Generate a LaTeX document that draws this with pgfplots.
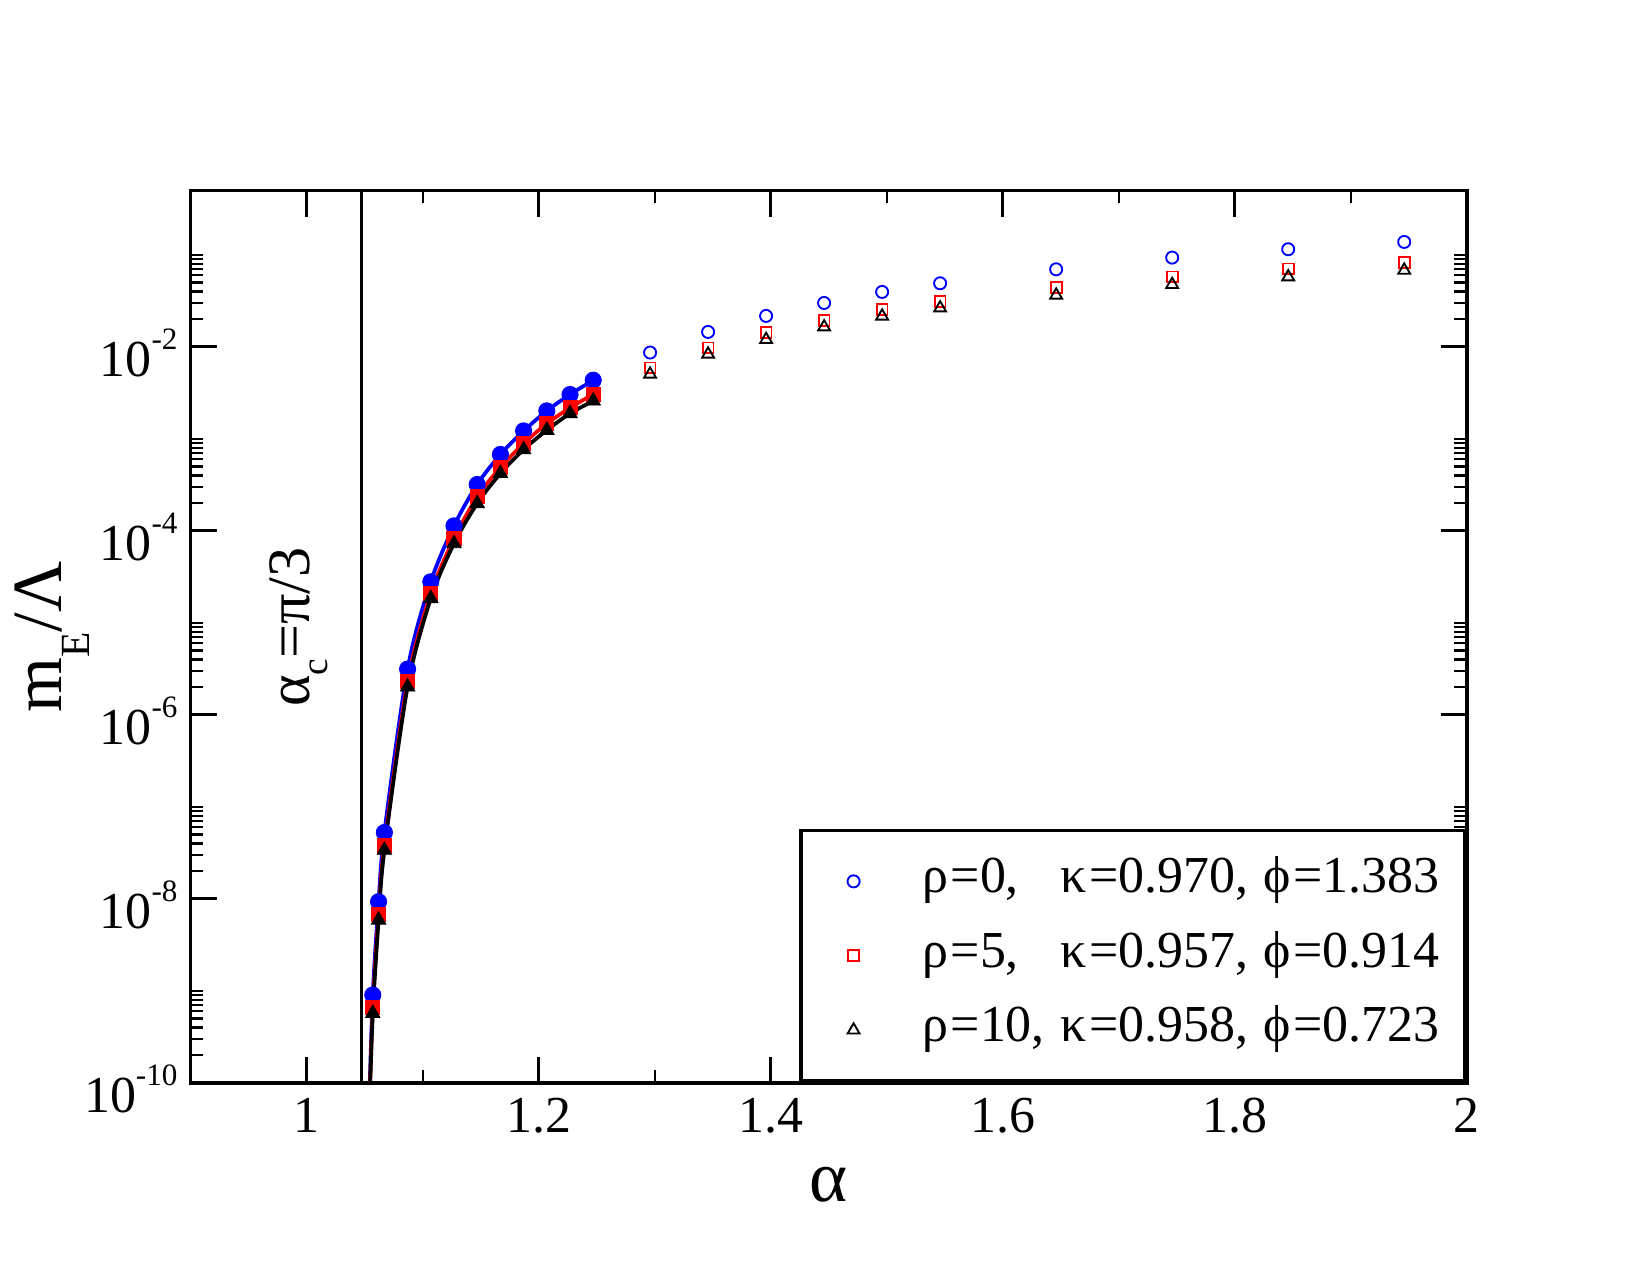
\documentclass[border=0pt]{standalone}
\usepackage{fontspec}
\setmainfont{Liberation Serif}
\usepackage{pgfplots}
\pgfplotsset{compat=1.18}
\definecolor{gblue}{RGB}{0,0,255}
\definecolor{gred}{RGB}{255,0,0}

% power-of-ten tick label with a raised exponent
\newcommand{\tenpow}[1]{10\raisebox{13.4bp}{\fontsize{15}{15}\selectfont #1}}
% Greek letters with a little extra advance
\newcommand{\grk}[1]{\kern1.2bp#1\kern1.3bp}

\begin{document}
\begin{tikzpicture}
\useasboundingbox (-91.5bp,-92.2bp) rectangle (700.5bp,519.8bp);
\begin{axis}[
  at={(0,0)}, anchor=south west,
  scale only axis, width=612.6bp, height=428.3bp,
  xmin=0.9, xmax=2,
  ymode=log, ymin=1e-10, ymax=0.5,
  tick label style={font=\fontsize{25}{30}\selectfont},
  xtick={1,1.2,1.4,1.6,1.8,2},
  xticklabels={1,1.2,1.4,1.6,1.8,2},
  minor xtick={1.1,1.3,1.5,1.7,1.9},
  ytick={1e-10,1e-8,1e-6,1e-4,1e-2},
  yticklabels={\tenpow{-10},\tenpow{-8},\tenpow{-6},\tenpow{-4},\tenpow{-2}},
  minor ytick={2e-10,3e-10,4e-10,5e-10,6e-10,7e-10,8e-10,9e-10,1e-9,
               2e-8,3e-8,4e-8,5e-8,6e-8,7e-8,8e-8,9e-8,1e-7,
               2e-6,3e-6,4e-6,5e-6,6e-6,7e-6,8e-6,9e-6,1e-5,
               2e-4,3e-4,4e-4,5e-4,6e-4,7e-4,8e-4,9e-4,1e-3,
               2e-2,3e-2,4e-2,5e-2,6e-2,7e-2,8e-2,9e-2,1e-1},
  tick align=inside,
  major tick length=12.5bp, minor tick length=6.1bp,
  major tick style={line width=1.5bp,black},
  minor tick style={line width=1.1bp,black},
  axis line style={line width=1.7bp},
  xticklabel style={inner sep=0pt, anchor=north, text height=17bp, text depth=0pt, yshift=-6.7bp},
  yticklabel style={inner sep=0pt, anchor=base east, xshift=-6.1bp, yshift=-14.4bp},
  xlabel={α},
  ylabel={m\raisebox{-13.6bp}{\fontsize{20}{20}\selectfont E}/Λ},
  xlabel style={at={(axis description cs:0.5,-0.1334)}, anchor=base, font=\fontsize{35}{40}\selectfont},
  ylabel style={at={(axis description cs:-0.1011,0.5)}, anchor=base, font=\fontsize{34}{40}\selectfont},
  legend style={at={(rel axis cs:1,0)}, anchor=south east, draw=black, line width=1.7bp,
    inner xsep=12.2bp, inner ysep=13.5bp, row sep=13.7bp, column sep=28.8bp,
    font=\fontsize{25}{30}\selectfont,
    nodes={inner sep=0pt, text height=16.5bp, text depth=5.5bp}},
  legend cell align=left,
  legend image code/.code={\path (-12.6bp,0bp); \draw[#1] plot coordinates {(0bp,0bp)};},
]

% critical angle alpha_c = pi/3
\draw[line width=1.8bp] (axis cs:1.0472,1e-10) -- (axis cs:1.0472,0.5);
\node[rotate=90, font=\fontsize{29}{34}\selectfont] at (axis cs:0.9935,9.0e-6)
  {α\raisebox{-8.5bp}{\fontsize{18}{18}\selectfont c}=π/3};

% rho = 0
\addplot[gblue, line width=1.8bp, smooth, forget plot] coordinates {
  (1.0532,3.16e-11) (1.057,9.04e-10) (1.062,9.33e-9) (1.067,5.27e-8) (1.087,3.15e-6)
  (1.107,2.80e-5) (1.127,1.135e-4) (1.147,3.20e-4) (1.167,6.78e-4)
  (1.187,1.222e-3) (1.207,2.018e-3) (1.227,3.04e-3) (1.247,4.345e-3)};
\addplot[gblue, only marks, mark=*, mark size=3.9bp, forget plot] coordinates {
  (1.057,9.04e-10) (1.062,9.33e-9) (1.067,5.27e-8) (1.087,3.15e-6)
  (1.107,2.80e-5) (1.127,1.135e-4) (1.147,3.20e-4) (1.167,6.78e-4)
  (1.187,1.222e-3) (1.207,2.018e-3) (1.227,3.04e-3) (1.247,4.345e-3)};

% rho = 5
\addplot[gred, line width=1.8bp, smooth, forget plot] coordinates {
  (1.0534,3.16e-11) (1.057,6.58e-10) (1.062,6.79e-9) (1.067,3.78e-8) (1.087,2.29e-6)
  (1.107,2.09e-5) (1.127,8.26e-5) (1.147,2.35e-4) (1.167,4.90e-4)
  (1.187,8.89e-4) (1.207,1.469e-3) (1.227,2.178e-3) (1.247,3.06e-3)};
\addplot[gred, only marks, mark=square*, mark size=3.4bp, forget plot] coordinates {
  (1.057,6.58e-10) (1.062,6.79e-9) (1.067,3.78e-8) (1.087,2.29e-6)
  (1.107,2.09e-5) (1.127,8.26e-5) (1.147,2.35e-4) (1.167,4.90e-4)
  (1.187,8.89e-4) (1.207,1.469e-3) (1.227,2.178e-3) (1.247,3.06e-3)};

% rho = 10
\addplot[black, line width=1.8bp, smooth, forget plot] coordinates {
  (1.0535,3.16e-11) (1.057,5.71e-10) (1.062,5.90e-9) (1.067,3.39e-8) (1.087,2.02e-6)
  (1.107,1.845e-5) (1.127,7.29e-5) (1.147,1.99e-4) (1.167,4.22e-4)
  (1.187,7.66e-4) (1.207,1.245e-3) (1.227,1.892e-3) (1.247,2.59e-3)};
\addplot[black, only marks, mark=triangle*, mark size=4bp, forget plot] coordinates {
  (1.057,5.71e-10) (1.062,5.90e-9) (1.067,3.39e-8) (1.087,2.02e-6)
  (1.107,1.845e-5) (1.127,7.29e-5) (1.147,1.99e-4) (1.167,4.22e-4)
  (1.187,7.66e-4) (1.207,1.245e-3) (1.227,1.892e-3) (1.247,2.59e-3)};

% larger angles
\addplot[gblue, only marks, mark=o, mark size=2.9bp, line width=0.9bp] coordinates {
  (1.296,8.69e-3) (1.346,1.456e-2) (1.396,2.173e-2) (1.446,3.006e-2) (1.496,3.963e-2)
  (1.546,4.92e-2) (1.646,6.98e-2) (1.746,9.35e-2) (1.846,0.1153) (1.946,0.1384)};
\addlegendentry{\grk{ρ}=0,\phantom{1} \grk{κ}=0.970, \grk{ϕ}=1.383}
\addplot[gred, only marks, mark=square, mark size=2.6bp, line width=0.9bp] coordinates {
  (1.296,5.92e-3) (1.346,9.75e-3) (1.396,1.432e-2) (1.446,1.950e-2) (1.496,2.547e-2)
  (1.546,3.14e-2) (1.646,4.42e-2) (1.746,5.77e-2) (1.846,7.05e-2) (1.946,8.34e-2)};
\addlegendentry{\grk{ρ}=5,\phantom{1} \grk{κ}=0.957, \grk{ϕ}=0.914}
\addplot[black, only marks, mark=triangle, mark size=3.3bp, line width=0.9bp] coordinates {
  (1.296,5.05e-3) (1.346,8.34e-3) (1.396,1.202e-2) (1.446,1.648e-2) (1.496,2.158e-2)
  (1.546,2.65e-2) (1.646,3.65e-2) (1.746,4.76e-2) (1.846,5.77e-2) (1.946,6.81e-2)};
\addlegendentry{\grk{ρ}=10, \grk{κ}=0.958, \grk{ϕ}=0.723}
\end{axis}
\end{tikzpicture}
\end{document}
